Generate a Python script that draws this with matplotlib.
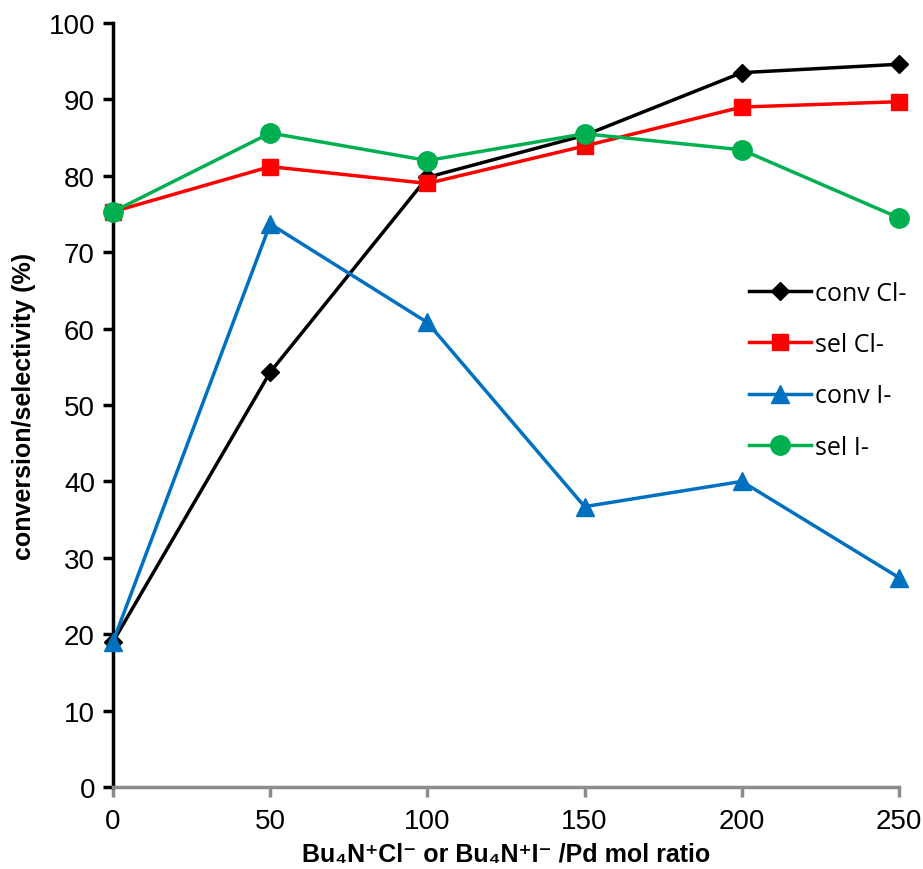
import matplotlib
matplotlib.use("Agg")
import matplotlib.pyplot as plt
import numpy as np

plt.rcParams['font.family'] = ['Liberation Sans', 'DejaVu Sans']

ratio = [0, 50, 100, 150, 200, 250]
conv_cl = [19.0, 54.3, 79.8, 85.3, 93.5, 94.6]
sel_cl = [75.3, 81.2, 79.0, 83.9, 89.0, 89.7]
conv_i = [19.0, 73.7, 60.8, 36.7, 40.0, 27.4]
sel_i = [75.3, 85.6, 82.0, 85.5, 83.4, 74.5]

fig = plt.figure(figsize=(9.23, 8.7), dpi=100)
ax = fig.add_axes([113/923, 1-788/870, (899-113)/923, (788-24)/870])

ax.plot(ratio, conv_cl, color='black', lw=2.5, marker='D', ms=9, label='conv Cl-', clip_on=False, zorder=3)
ax.plot(ratio, sel_cl, color='#FF0000', lw=2.5, marker='s', ms=11.5, label='sel Cl-', clip_on=False, zorder=3)
ax.plot(ratio, conv_i, color='#0070C0', lw=2.5, marker='^', ms=13, label='conv I-', clip_on=False, zorder=3)
ax.plot(ratio, sel_i, color='#00B050', lw=2.5, marker='o', ms=14, label='sel I-', clip_on=False, zorder=4)

ax.set_xlim(0, 250)
ax.set_ylim(0, 100)
ax.set_xticks(np.arange(0, 251, 50))
ax.set_yticks(np.arange(0, 101, 10))

for s in ['top', 'right']:
    ax.spines[s].set_visible(False)
ax.spines['left'].set_color('black')
ax.spines['left'].set_linewidth(2.5)
ax.spines['bottom'].set_color('#8c8c8c')
ax.spines['bottom'].set_linewidth(2.5)
ax.tick_params(axis='y', direction='out', length=7, width=2.5, colors='black', labelsize=20, pad=6)
ax.tick_params(axis='x', direction='out', length=7, width=2.5, color='#8c8c8c', labelcolor='black', labelsize=20, pad=8)

ax.set_ylabel('conversion/selectivity (%)', fontsize=18, fontweight='bold', labelpad=9)
ax.set_xlabel('Bu\u2084N\u207aCl\u207b or Bu\u2084N\u207aI\u207b /Pd mol ratio', fontsize=18, fontweight='bold', labelpad=6)

leg = ax.legend(loc='upper left', bbox_to_anchor=(0.78, 0.692), frameon=False,
                prop={'family': 'Open Sans', 'size': 18}, labelspacing=1.05,
                handlelength=2.5, handletextpad=0.15)

fig.savefig('out.png', dpi=100)
